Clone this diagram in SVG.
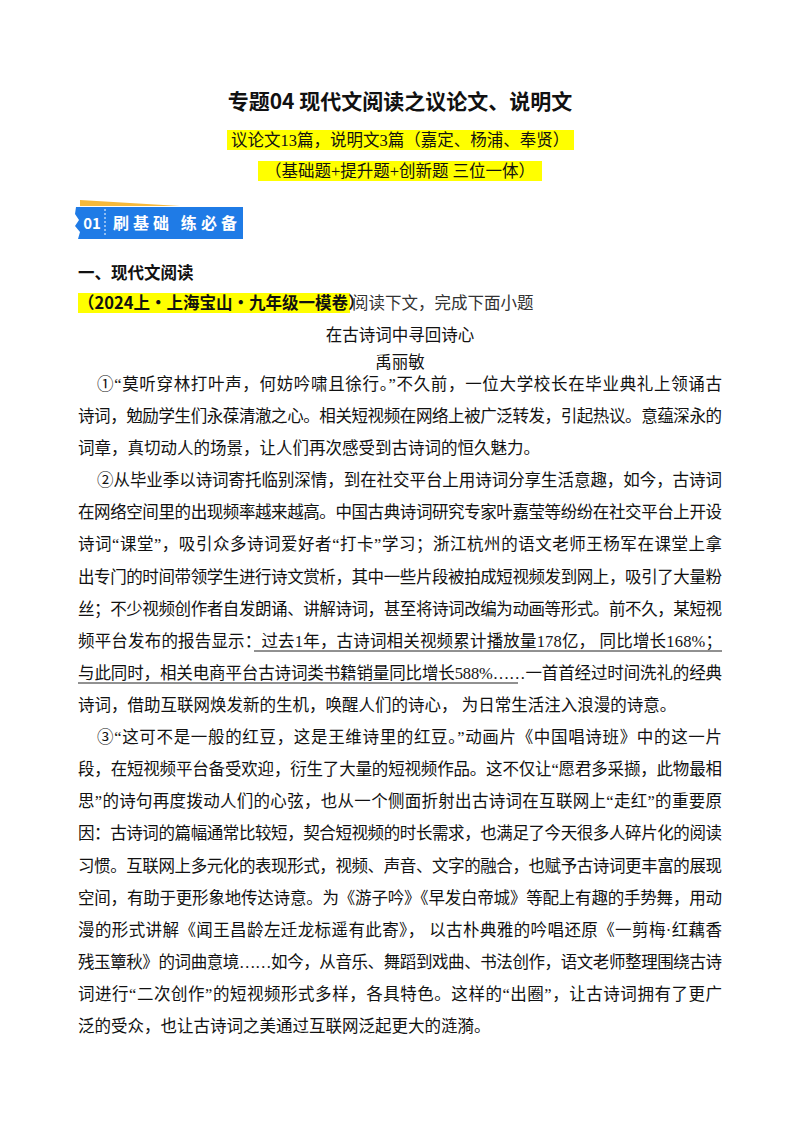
<svg xmlns="http://www.w3.org/2000/svg" width="800" height="1132" viewBox="0 0 800 1132">
<style>
text{font-family:"Liberation Serif","Noto Sans CJK SC",serif;fill:#111}
.b{font-size:16.5px}
.h{font-family:"Noto Sans CJK SC",sans-serif;font-weight:bold}
.hl{fill:#ffff00}
.u{stroke:#222;stroke-width:1}
</style>
<rect width="800" height="1132" fill="#fff"/>
<g id="title">
<text class="h" x="400" y="109" font-size="21" text-anchor="middle">专题04  现代文阅读之议论文、说明文</text>
</g>
<g id="subtitle">
<rect class="hl" x="227" y="130" width="347" height="20"/>
<text class="b" x="400" y="146" text-anchor="middle">议论文13篇，说明文3篇（嘉定、杨浦、奉贤）</text>
<rect class="hl" x="258" y="161" width="284" height="20"/>
<text class="b" x="400" y="177" text-anchor="middle">（基础题+提升题+创新题  三位一体）</text>
</g>
<g id="badge">
<path d="M80,200 L180,206 L80,206 Z" fill="#f6b93b"/>
<path d="M76,207 L243,207 L243,239 L78,239 L80,232 L75,226 L79,220 L75,214 Z" fill="#1f7be6"/>
<line x1="105" y1="209" x2="105" y2="237" stroke="#fff" stroke-width="1" stroke-dasharray="2,2"/>
<text class="h" x="92" y="229" font-size="15" text-anchor="middle" style="fill:#fff">01</text>
<text class="h" x="113" y="229" font-size="16" textLength="124" style="fill:#fff">刷基础 练必备</text>
</g>
<g id="heading">
<text class="h" x="78" y="279" font-size="16.5">一、现代文阅读</text>
<rect class="hl" x="78" y="293" width="272" height="20"/>
<text class="h" x="78" y="309" font-size="16.5">（2024上·上海宝山·九年级一模卷）</text>
<text class="b" x="352" y="309" style="fill:#333">阅读下文，完成下面小题</text>
<text class="b" x="400" y="341" text-anchor="middle">在古诗词中寻回诗心</text>
<text class="b" x="400" y="368" text-anchor="middle">禹丽敏</text>
</g>
<g id="body" class="b">
<text x="97" y="390" textLength="625" lengthAdjust="spacing">①“莫听穿林打叶声，何妨吟啸且徐行。”不久前，一位大学校长在毕业典礼上领诵古</text>
<text x="78" y="422" textLength="644" lengthAdjust="spacing">诗词，勉励学生们永葆清澈之心。相关短视频在网络上被广泛转发，引起热议。意蕴深永的</text>
<text x="78" y="454">词章，真切动人的场景，让人们再次感受到古诗词的恒久魅力。</text>
<text x="97" y="486" textLength="625" lengthAdjust="spacing">②从毕业季以诗词寄托临别深情，到在社交平台上用诗词分享生活意趣，如今，古诗词</text>
<text x="78" y="518" textLength="644" lengthAdjust="spacing">在网络空间里的出现频率越来越高。中国古典诗词研究专家叶嘉莹等纷纷在社交平台上开设</text>
<text x="78" y="550" textLength="644" lengthAdjust="spacing">诗词“课堂”，吸引众多诗词爱好者“打卡”学习；浙江杭州的语文老师王杨军在课堂上拿</text>
<text x="78" y="583" textLength="644" lengthAdjust="spacing">出专门的时间带领学生进行诗文赏析，其中一些片段被拍成短视频发到网上，吸引了大量粉</text>
<text x="78" y="615" textLength="644" lengthAdjust="spacing">丝；不少视频创作者自发朗诵、讲解诗词，甚至将诗词改编为动画等形式。前不久，某短视</text>
<text x="78" y="647" textLength="644" lengthAdjust="spacing">频平台发布的报告显示：过去1年，古诗词相关视频累计播放量178亿， 同比增长168%；</text>
<text x="78" y="679" textLength="644" lengthAdjust="spacing">与此同时，相关电商平台古诗词类书籍销量同比增长588%……一首首经过时间洗礼的经典</text>
<text x="78" y="711">诗词，借助互联网焕发新的生机，唤醒人们的诗心， 为日常生活注入浪漫的诗意。</text>
<text x="97" y="743" textLength="625" lengthAdjust="spacing">③“这可不是一般的红豆，这是王维诗里的红豆。”动画片《中国唱诗班》中的这一片</text>
<text x="78" y="775" textLength="644" lengthAdjust="spacing">段，在短视频平台备受欢迎，衍生了大量的短视频作品。这不仅让“愿君多采撷，此物最相</text>
<text x="78" y="807" textLength="644" lengthAdjust="spacing">思”的诗句再度拨动人们的心弦，也从一个侧面折射出古诗词在互联网上“走红”的重要原</text>
<text x="78" y="839" textLength="644" lengthAdjust="spacing">因：古诗词的篇幅通常比较短，契合短视频的时长需求，也满足了今天很多人碎片化的阅读</text>
<text x="78" y="872" textLength="644" lengthAdjust="spacing">习惯。互联网上多元化的表现形式，视频、声音、文字的融合，也赋予古诗词更丰富的展现</text>
<text x="78" y="904" textLength="644" lengthAdjust="spacing">空间，有助于更形象地传达诗意。为《游子吟》《早发白帝城》等配上有趣的手势舞，用动</text>
<text x="78" y="936" textLength="644" lengthAdjust="spacing">漫的形式讲解《闻王昌龄左迁龙标遥有此寄》， 以古朴典雅的吟唱还原《一剪梅·红藕香</text>
<text x="78" y="968" textLength="644" lengthAdjust="spacing">残玉簟秋》的词曲意境……如今，从音乐、舞蹈到戏曲、书法创作，语文老师整理围绕古诗</text>
<text x="78" y="1000" textLength="644" lengthAdjust="spacing">词进行“二次创作”的短视频形式多样，各具特色。这样的“出圈”，让古诗词拥有了更广</text>
<text x="78" y="1032">泛的受众，也让古诗词之美通过互联网泛起更大的涟漪。</text>
</g>
<g id="underlines">
<line class="u" x1="254" y1="651" x2="722" y2="651"/>
<line class="u" x1="78" y1="683" x2="518" y2="683"/>
</g>
</svg>
